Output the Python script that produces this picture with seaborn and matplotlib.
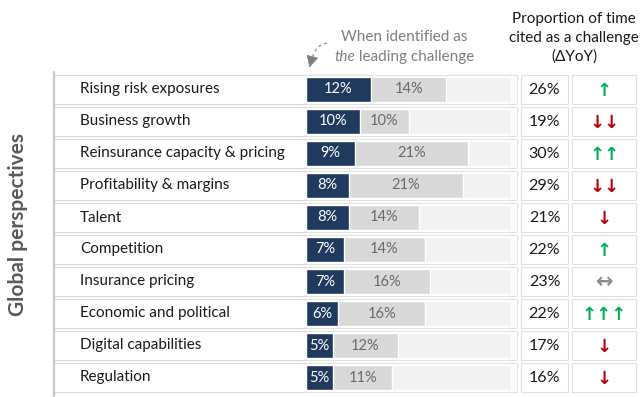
import matplotlib
matplotlib.use("Agg")
import matplotlib.pyplot as plt
import seaborn as sns
import pandas as pd
import numpy as np
from matplotlib.patches import Rectangle, FancyArrowPatch

categories = ["Rising risk exposures", "Business growth", "Reinsurance capacity & pricing",
              "Profitability & margins", "Talent", "Competition", "Insurance pricing",
              "Economic and political", "Digital capabilities", "Regulation"]
leading_share = [12, 10, 9, 8, 8, 7, 7, 6, 5, 5]
other_share = [14, 10, 21, 21, 14, 14, 16, 16, 12, 11]
total_share = [26, 19, 30, 29, 21, 22, 23, 22, 17, 16]
yoy_change = ["↑", "↓↓", "↑↑", "↓↓", "↓", "↑", "↔", "↑↑↑", "↓", "↓"]

sns.set_theme(style="white")
plt.rcParams['font.family'] = ['Lato', 'DejaVu Sans']

W, H = 640, 397
fig = plt.figure(figsize=(6.4, 3.97), dpi=100)
fig.patch.set_facecolor("white")

ov = fig.add_axes([0, 0, 1, 1])
ov.set_xlim(0, W)
ov.set_ylim(H, 0)
ov.axis("off")

ROW0, ROWH = 89.5, 32
BAR_X0, PX_PER = 306, 5.4
XMAX = 38
n = len(categories)

ax = fig.add_axes([BAR_X0 / W, (H - (ROW0 - ROWH / 2 + ROWH * n)) / H,
                   XMAX * PX_PER / W, ROWH * n / H])
ax.patch.set_alpha(0)

df = pd.DataFrame({"category": categories, "leading": leading_share,
                   "other": other_share, "total": total_share})
df["bg"] = XMAX

sns.barplot(data=df, x="bg", y="category", color="#f2f2f2", width=0.8, ax=ax, saturation=1)
sns.barplot(data=df, x="total", y="category", color="#d9d9d9", width=0.8, ax=ax, saturation=1)
sns.barplot(data=df, x="leading", y="category", color="#1f3a5c", width=0.8, ax=ax, saturation=1)
ax.set_xlim(0, XMAX)
ax.set_ylim(n - 0.5, -0.5)
ax.axis("off")

for i in range(n):
    ax.text(leading_share[i] / 2, i, f"{leading_share[i]}%", ha="center", va="center",
            color="white", fontsize=10.5)
    ax.text((leading_share[i] + total_share[i]) / 2, i, f"{other_share[i]}%", ha="center",
            va="center", color="#6a6a6a", fontsize=10.5)

# table cells
ov.plot([53.5, 53.5], [72, 397], color="#c9c9c9", lw=1.6)
for i in range(n):
    yc = ROW0 + ROWH * i
    ov.add_patch(Rectangle((54, yc - 14.5), 252, 29, fc="white", ec="#d9d9d9", lw=0.8))
    ov.add_patch(Rectangle((306, yc - 14.5), 211, 29, fc="none", ec="#e3e3e3", lw=0.8))
    ov.add_patch(Rectangle((521, yc - 14.5), 47, 29, fc="white", ec="#e0e0e0", lw=0.8))
    ov.add_patch(Rectangle((572, yc - 14.5), 64, 29, fc="white", ec="#e0e0e0", lw=0.8))
    ov.text(80, yc, categories[i], ha="left", va="center", fontsize=11, color="#1a1a1a")
    ov.text(544.5, yc, f"{total_share[i]}%", ha="center", va="center", fontsize=11.5,
            color="#1a1a1a")
    sym = yoy_change[i]
    col = "#00b050" if sym[0] == "↑" else ("#c00000" if sym[0] == "↓" else "#8c8c8c")
    fs = 15 if sym == "↔" else 13
    ov.text(604.5, yc + 1, sym, ha="center", va="center", fontsize=fs, color=col,
            family="DejaVu Sans", fontweight="bold")

# headers
ov.text(574, 38, "Proportion of time\ncited as a challenge\n(ΔYoY)", ha="center", va="center",
        fontsize=11, color="#1a1a1a", linespacing=1.4)
ov.text(404.5, 37, "When identified as", ha="center", va="center", fontsize=11,
        color="#7f7f7f")
t1 = ov.text(0, 57, "the", ha="left", va="center", fontsize=11, color="#7f7f7f",
             style="italic")
t2 = ov.text(0, 57, " leading challenge", ha="left", va="center", fontsize=11,
             color="#7f7f7f")
fig.canvas.draw()
r = fig.canvas.get_renderer()
w1 = t1.get_window_extent(r).width
w2 = t2.get_window_extent(r).width
x0 = 404.5 - (w1 + w2) / 2
t1.set_x(x0)
t2.set_x(x0 + w1)

# dashed curved pointer
s = np.linspace(0, 1, 30)
p0, pc, p2 = np.array([327, 43]), np.array([316, 45]), np.array([312.5, 57])
curve = ((1 - s) ** 2)[:, None] * p0 + (2 * (1 - s) * s)[:, None] * pc + (s ** 2)[:, None] * p2
ov.plot(curve[:, 0], curve[:, 1], color="#999999", lw=1.0, linestyle=(0, (2.2, 2.2)))
head = FancyArrowPatch((312.5, 56), (309.5, 67.5), arrowstyle="-|>,head_length=7.5,head_width=3.8",
                       color="#7f7f7f", lw=0.5, mutation_scale=1, shrinkA=0, shrinkB=0)
ov.add_patch(head)

ov.text(18, 225, "Global perspectives", rotation=90, ha="center", va="center",
        fontsize=15, fontweight="bold", color="#595959")

fig.savefig("out.png", dpi=100)
